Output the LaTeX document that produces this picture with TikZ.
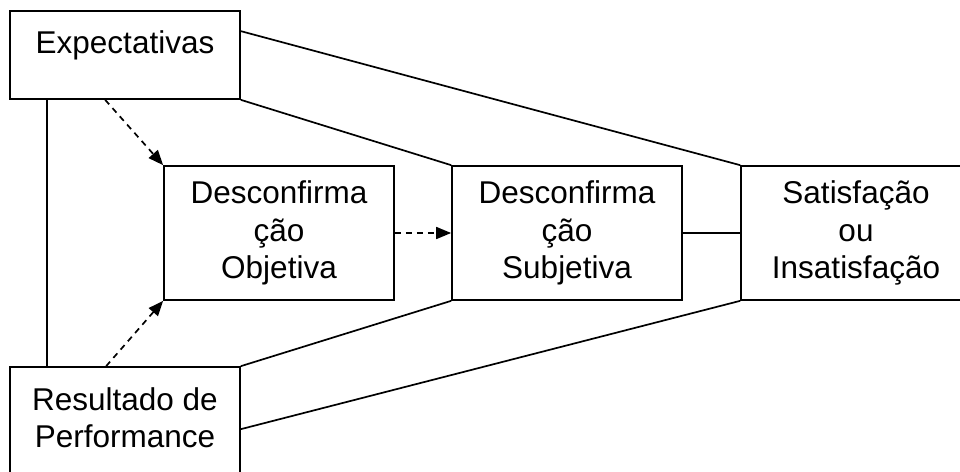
\documentclass[tikz,border=0pt]{standalone}
\usepackage{fontspec}
\setmainfont{Liberation Sans}
\usetikzlibrary{arrows.meta}
\begin{document}
\begin{tikzpicture}[x=1pt,y=-1pt,
  box/.style={draw,line width=1.7pt,minimum width=230pt,inner sep=0pt,align=center,
    font=\fontsize{31.5}{37.5}\selectfont},
  txt/.style={inner sep=0pt,align=center,font=\fontsize{31.5}{37.5}\selectfont},
  conn/.style={line width=1.7pt},
  darr/.style={line width=1.7pt,dash pattern=on 6pt off 5pt,
    -{Triangle[length=15pt,width=12pt]}}]
\clip (0,0) rectangle (960,471);
\fill[white] (0,0) rectangle (960,471);
% boxes
\node[box,minimum height=88pt] (exp) at (125,55) {};
\node[txt,anchor=base] (expT) at (125,53) {Expectativas};
\node[box,minimum height=134pt] (obj) at (279,233) {Desconfirma\\ção\\Objetiva};
\node[box,minimum height=134pt] (subj) at (567,233) {Desconfirma\\ção\\Subjetiva};
\node[box,minimum height=134pt] (sat) at (856,233) {Satisfação\\ou\\Insatisfação};
\node[box,minimum height=118pt] (res) at (125,426) {};
\node[txt,anchor=base] (resT1) at (125,410) {Resultado de};
\node[txt,anchor=base] (resT2) at (125,447) {Performance};
% solid connectors
\draw[conn] ([xshift=38pt]exp.south west) -- ([xshift=38pt]res.north west);
\draw[conn] ([yshift=-21pt]exp.north east) -- (sat.north west);
\draw[conn] (exp.south east) -- (subj.north west);
\draw[conn] (res.north east) -- (subj.south west);
\draw[conn] ([yshift=-63pt]res.north east) -- (sat.south west);
\draw[conn] (subj.east) -- (sat.west);
% dashed arrows
\draw[darr] ([xshift=96pt]exp.south west) -- (obj.north west);
\draw[darr] ([xshift=97pt]res.north west) -- (obj.south west);
\draw[darr] (obj.east) -- (subj.west);
\end{tikzpicture}
\end{document}
